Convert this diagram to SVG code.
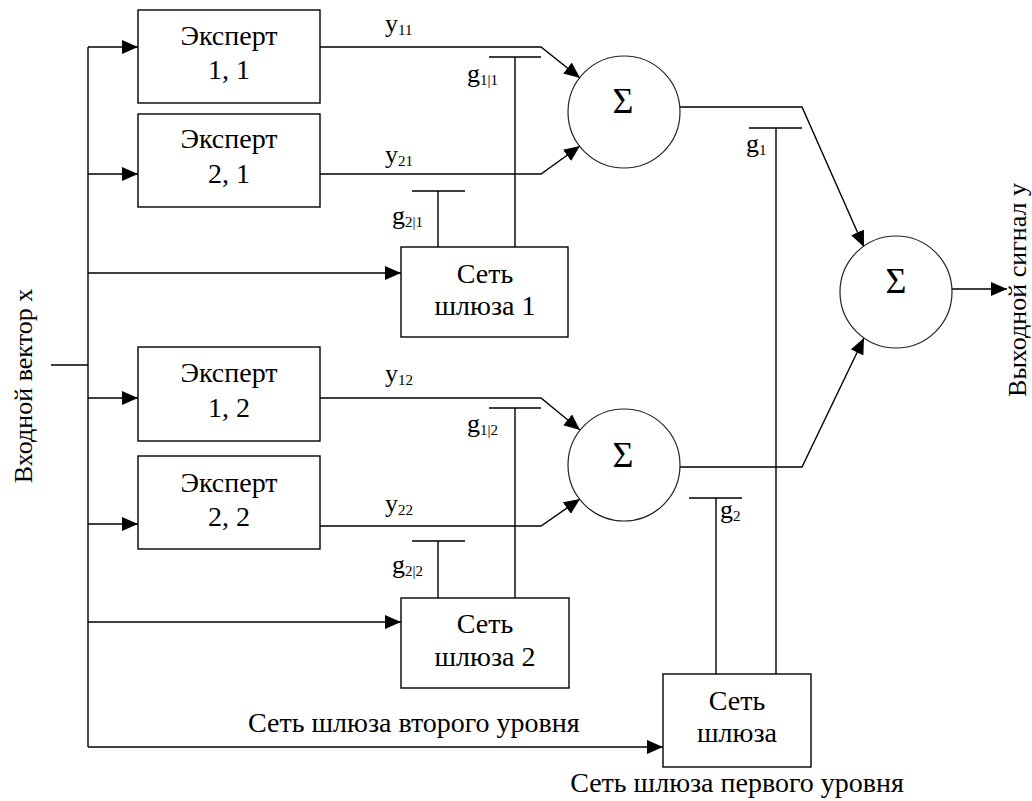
<svg xmlns="http://www.w3.org/2000/svg" width="1032" height="801" viewBox="0 0 1032 801">
<defs>
<marker id="arr" viewBox="0 0 16 14" markerWidth="16" markerHeight="14" refX="16" refY="7" orient="auto" markerUnits="userSpaceOnUse">
<path d="M0,0 L16,7 L0,14 z" fill="#000"/>
</marker>
<style>
.box{fill:#fff;stroke:#000;stroke-width:1.4}
.circ{fill:#fff;stroke:#222;stroke-width:1.2}
.ln{fill:none;stroke:#000;stroke-width:1.4}
.ar{fill:none;stroke:#000;stroke-width:1.4;marker-end:url(#arr)}
.t{font-family:"Liberation Serif","Times New Roman",serif;font-size:28px;fill:#000}
.l{font-size:26px}
.v{font-size:26px}
.s{font-size:36px}
.c{text-anchor:middle}
.sub{font-size:15px}
</style>
</defs>
<rect width="1032" height="801" fill="#fff"/>

<g id="connectors">
<path class="ln" d="M51,365 H88 M88,47 V747"/>
<path class="ar" d="M88,47 H138"/>
<path class="ar" d="M88,174 H138"/>
<path class="ar" d="M88,273 H401"/>
<path class="ar" d="M88,398 H138"/>
<path class="ar" d="M88,524 H138"/>
<path class="ar" d="M88,622 H401"/>
<path class="ar" d="M88,747 H663"/>
<path class="ar" d="M320,47 H541 L580,78"/>
<path class="ar" d="M320,174 H541 L580,146"/>
<path class="ar" d="M320,398 H541 L580,430"/>
<path class="ar" d="M320,526 H541 L580,499"/>
<path class="ln" d="M489,57 H541 M515,57 V247"/>
<path class="ln" d="M412,191 H465 M438,191 V247"/>
<path class="ln" d="M489,408 H541 M515,408 V598"/>
<path class="ln" d="M412,541 H465 M438,541 V598"/>
<path class="ar" d="M680,107 H802 L864,247"/>
<path class="ar" d="M680,467 H802 L864,338"/>
<path class="ln" d="M749,128 H802 M776,128 V674"/>
<path class="ln" d="M689,498 H742 M716,498 V674"/>
<path class="ar" d="M952,289 H1007"/>
<text class="t l" x="385" y="32">y<tspan class="sub" dy="3">11</tspan></text>
<text class="t l" x="385" y="163">y<tspan class="sub" dy="3">21</tspan></text>
<text class="t l" x="467" y="82">g<tspan class="sub" dy="3">1|1</tspan></text>
<text class="t l" x="392" y="224">g<tspan class="sub" dy="3">2|1</tspan></text>
<text class="t l" x="385" y="382">y<tspan class="sub" dy="3">12</tspan></text>
<text class="t l" x="385" y="512">y<tspan class="sub" dy="3">22</tspan></text>
<text class="t l" x="467" y="432">g<tspan class="sub" dy="3">1|2</tspan></text>
<text class="t l" x="392" y="573">g<tspan class="sub" dy="3">2|2</tspan></text>
<text class="t l" x="746" y="152">g<tspan class="sub" dy="3">1</tspan></text>
<text class="t l" x="720" y="518">g<tspan class="sub" dy="3">2</tspan></text>
</g>

<g id="e11"><rect class="box" x="138" y="10" width="182" height="93"/><text class="t c" x="229" y="45">Эксперт</text><text class="t c" x="229" y="79">1, 1</text></g>
<g id="e21"><rect class="box" x="138" y="114" width="182" height="93"/><text class="t c" x="229" y="148">Эксперт</text><text class="t c" x="229" y="183">2, 1</text></g>
<g id="e12"><rect class="box" x="138" y="347" width="182" height="94"/><text class="t c" x="229" y="382">Эксперт</text><text class="t c" x="229" y="417">1, 2</text></g>
<g id="e22"><rect class="box" x="138" y="456" width="182" height="93"/><text class="t c" x="229" y="492">Эксперт</text><text class="t c" x="229" y="526">2, 2</text></g>
<g id="gate1"><rect class="box" x="401" y="247" width="167" height="90"/><text class="t c" x="485" y="283">Сеть</text><text class="t c" x="485" y="315">шлюза 1</text></g>
<g id="gate2"><rect class="box" x="401" y="598" width="168" height="90"/><text class="t c" x="485" y="633">Сеть</text><text class="t c" x="485" y="666">шлюза 2</text></g>
<g id="gate3"><rect class="box" x="663" y="674" width="148" height="93"/><text class="t c" x="737" y="710">Сеть</text><text class="t c" x="737" y="742">шлюза</text></g>
<g id="sum1"><circle class="circ" cx="624" cy="112" r="56"/><text class="t s c" x="623" y="113">Σ</text></g>
<g id="sum2"><circle class="circ" cx="624" cy="465" r="56"/><text class="t s c" x="623" y="467">Σ</text></g>
<g id="sum3"><circle class="circ" cx="896" cy="292" r="56"/><text class="t s c" x="896" y="293">Σ</text></g>
<g id="labels">
<text class="t v c" transform="translate(32,386) rotate(-90)">Входной вектор x</text>
<text class="t v c" transform="translate(1026,290) rotate(-90)">Выходной сигнал y</text>
<text class="t" x="248" y="732">Сеть шлюза второго уровня</text>
<text class="t c" x="737" y="792">Сеть шлюза первого уровня</text>
</g>
</svg>
